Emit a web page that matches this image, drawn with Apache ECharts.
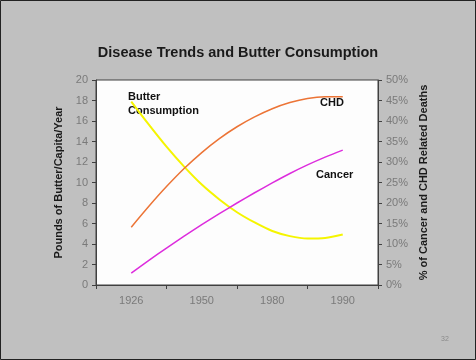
<!DOCTYPE html>
<html>
<head>
<meta charset="utf-8">
<script src="https://cdn.jsdelivr.net/npm/echarts@6/dist/echarts.min.js"></script>
<style>html,body{margin:0;padding:0;background:#c0c0c0;}#c{width:476px;height:360px;}</style>
</head>
<body>
<div id="c"></div>
<script>
// Category labels on the x axis
const categories = ['1926', '1950', '1980', '1990'];
// Positions along the category axis (0 = 1926 ... 3 = 1990) where values were read
const samplePos = [0, 0.25, 0.5, 0.75, 1, 1.25, 1.5, 1.75, 2, 2.25, 2.5, 2.75, 3];
// Butter consumption, pounds/capita/year (left axis)
const butter = [17.9, 15.65, 13.5, 11.55, 9.8, 8.35, 7.1, 6.1, 5.27, 4.77, 4.54, 4.59, 4.93];
// CHD related deaths, % (right axis)
const chd = [14.1, 19.2, 24.0, 28.4, 32.3, 35.7, 38.6, 41.0, 43.0, 44.5, 45.5, 45.9, 45.9];
// Cancer related deaths, % (right axis)
const cancer = [2.9, 6.0, 9.0, 11.9, 14.7, 17.4, 20.0, 22.5, 24.9, 27.2, 29.3, 31.2, 32.9];

const pair = (arr) => arr.map((v, i) => [samplePos[i], v]);

const chart = echarts.init(document.getElementById('c'), null, {renderer: 'canvas'});
const labelStyle = {color: '#7a7a7a', fontFamily: 'Liberation Sans, Arial', fontSize: 11};
const nameStyle = {color: '#1a1a1a', fontFamily: 'Liberation Sans, Arial', fontSize: 11, fontWeight: 'bold'};
chart.setOption({
  backgroundColor: '#c0c0c0',
  animation: false,
  title: {
    text: 'Disease Trends and Butter Consumption',
    left: 'center', top: 40,
    textStyle: {color: '#1a1a1a', fontFamily: 'Liberation Sans, Arial', fontSize: 14.5, fontWeight: 'bold'}
  },
  grid: {left: 96, right: 98, top: 80, bottom: 75, show: true, backgroundColor: '#fdfdfd', borderColor: '#404040', borderWidth: 1},
  xAxis: [
    {type: 'category', data: categories, boundaryGap: true,
     axisLine: {onZero: false, lineStyle: {color: '#404040'}},
     axisTick: {show: true, length: 4, lineStyle: {color: '#404040'}},
     axisLabel: Object.assign({margin: 10}, labelStyle),
     splitLine: {show: false}},
    {type: 'value', min: -0.5, max: 3.5, show: false}
  ],
  yAxis: [
    {type: 'value', min: 0, max: 20, interval: 2, position: 'left',
     name: 'Pounds of Butter/Capita/Year', nameLocation: 'middle', nameRotate: 90, nameGap: 27,
     nameTextStyle: nameStyle,
     axisLine: {show: true, onZero: false, lineStyle: {color: '#404040'}},
     axisTick: {show: true, length: 4, lineStyle: {color: '#404040'}},
     axisLabel: Object.assign({margin: 8}, labelStyle),
     splitLine: {show: false}},
    {type: 'value', min: 0, max: 50, interval: 5, position: 'right',
     name: '% of Cancer and CHD Related Deaths', nameLocation: 'middle', nameRotate: 90, nameGap: 40,
     nameTextStyle: nameStyle,
     axisLine: {show: true, onZero: false, lineStyle: {color: '#404040'}},
     axisTick: {show: true, length: 4, lineStyle: {color: '#404040'}},
     axisLabel: Object.assign({margin: 8, formatter: '{value}%'}, labelStyle),
     splitLine: {show: false}}
  ],
  series: [
    {name: 'Butter Consumption', type: 'line', xAxisIndex: 1, yAxisIndex: 0, smooth: 0.3, symbol: 'none',
     lineStyle: {color: '#f5f500', width: 2}, data: pair(butter)},
    {name: 'CHD', type: 'line', xAxisIndex: 1, yAxisIndex: 1, smooth: 0.3, symbol: 'none',
     lineStyle: {color: '#ec7436', width: 1.5}, data: pair(chd)},
    {name: 'Cancer', type: 'line', xAxisIndex: 1, yAxisIndex: 1, smooth: 0.3, symbol: 'none',
     lineStyle: {color: '#dd2ddd', width: 1.5}, data: pair(cancer)}
  ],
  graphic: [
    {type: 'rect', shape: {x: 0.5, y: 0.5, width: 475, height: 359}, style: {fill: 'none', stroke: '#222', lineWidth: 1}, silent: true},
    {type: 'text', left: 128, top: 90, style: {text: 'Butter\nConsumption', fill: '#111', font: 'bold 11px "Liberation Sans", Arial', lineHeight: 14}},
    {type: 'text', left: 320, top: 97, style: {text: 'CHD', fill: '#111', font: 'bold 11px "Liberation Sans", Arial'}},
    {type: 'text', left: 316, top: 169, style: {text: 'Cancer', fill: '#111', font: 'bold 11px "Liberation Sans", Arial'}},
    {type: 'text', left: 441, top: 336, style: {text: '32', fill: '#8a8a8a', font: '7px "Liberation Sans", Arial'}}
  ]
});
</script>
</body>
</html>
